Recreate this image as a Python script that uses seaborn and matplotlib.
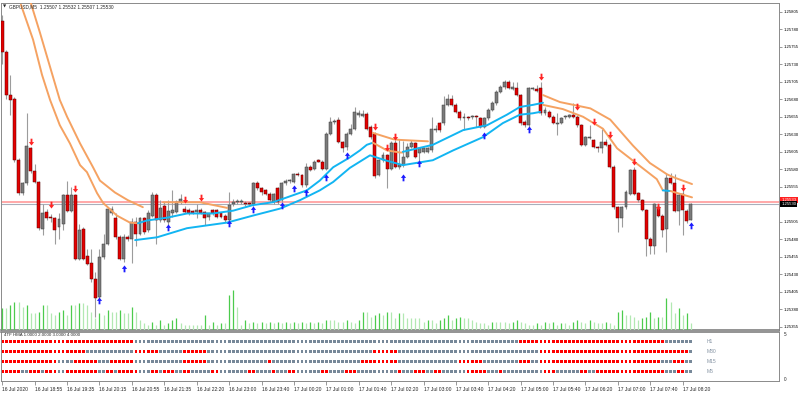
import numpy as np
import pandas as pd
import seaborn as sns
import matplotlib.pyplot as plt
from matplotlib.path import Path

sns.set_theme(style="white")
plt.rcParams['font.family'] = ['Liberation Sans', 'DejaVu Sans']

# ---- GBPUSD M5 bars (171 bars) ----
open_ = [1.25792, 1.25748, 1.25686, 1.25680, 1.25594, 1.25546, 1.25561, 1.25610, 1.25578, 1.25562,
         1.25495, 1.25519, 1.25512, 1.25510, 1.25497, 1.25502, 1.25543, 1.25521, 1.25543, 1.25452,
         1.25495, 1.25457, 1.25447, 1.25424, 1.25398, 1.25455, 1.25474, 1.25517, 1.25510, 1.25483,
         1.25452, 1.25483, 1.25480, 1.25505, 1.25488, 1.25510, 1.25493, 1.25514, 1.25544, 1.25507,
         1.25527, 1.25505, 1.25518, 1.25519, 1.25533, 1.25524, 1.25522, 1.25520, 1.25519, 1.25522,
         1.25519, 1.25512, 1.25522, 1.25522, 1.25517, 1.25514, 1.25507, 1.25530, 1.25533, 1.25533,
         1.25532, 1.25532, 1.25530, 1.25560, 1.25553, 1.25550, 1.25545, 1.25533, 1.25553, 1.25536,
         1.25560, 1.25563, 1.25562, 1.25574, 1.25572, 1.25557, 1.25584, 1.25581, 1.25593, 1.25591,
         1.25581, 1.25631, 1.25648, 1.25650, 1.25619, 1.25612, 1.25631, 1.25638, 1.25658, 1.25656,
         1.25659, 1.25641, 1.25631, 1.25572, 1.25593, 1.25600, 1.25581, 1.25617, 1.25584, 1.25586,
         1.25598, 1.25612, 1.25617, 1.25603, 1.25605, 1.25605, 1.25607, 1.25636, 1.25646, 1.25646,
         1.25672, 1.25681, 1.25672, 1.25662, 1.25653, 1.25654, 1.25654, 1.25656, 1.25653, 1.25641,
         1.25653, 1.25665, 1.25674, 1.25691, 1.25697, 1.25705, 1.25695, 1.25696, 1.25686, 1.25648,
         1.25643, 1.25695, 1.25694, 1.25696, 1.25660, 1.25662, 1.25655, 1.25645, 1.25646, 1.25654,
         1.25655, 1.25657, 1.25655, 1.25643, 1.25615, 1.25625, 1.25622, 1.25612, 1.25610, 1.25619,
         1.25615, 1.25584, 1.25526, 1.25510, 1.25526, 1.25545, 1.25579, 1.25546, 1.25536, 1.25522,
         1.25481, 1.25471, 1.25526, 1.25514, 1.25495, 1.25567, 1.25561, 1.25521, 1.25545, 1.25521,
         1.25507]
high = [1.25800, 1.25750, 1.25715, 1.25683, 1.25596, 1.25562, 1.25660, 1.25612, 1.25588, 1.25564,
        1.25531, 1.25524, 1.25516, 1.25512, 1.25517, 1.25545, 1.25564, 1.25555, 1.25545, 1.25502,
        1.25497, 1.25466, 1.25466, 1.25433, 1.25466, 1.25488, 1.25526, 1.25528, 1.25517, 1.25486,
        1.25488, 1.25486, 1.25510, 1.25512, 1.25512, 1.25512, 1.25522, 1.25548, 1.25546, 1.25536,
        1.25533, 1.25536, 1.25550, 1.25536, 1.25545, 1.25527, 1.25525, 1.25522, 1.25531, 1.25525,
        1.25521, 1.25517, 1.25524, 1.25524, 1.25519, 1.25516, 1.25548, 1.25537, 1.25537, 1.25537,
        1.25535, 1.25534, 1.25562, 1.25563, 1.25555, 1.25552, 1.25547, 1.25546, 1.25555, 1.25562,
        1.25566, 1.25566, 1.25575, 1.25576, 1.25574, 1.25589, 1.25586, 1.25593, 1.25595, 1.25593,
        1.25633, 1.25655, 1.25652, 1.25655, 1.25621, 1.25633, 1.25645, 1.25669, 1.25664, 1.25665,
        1.25662, 1.25643, 1.25633, 1.25595, 1.25605, 1.25602, 1.25620, 1.25622, 1.25624, 1.25620,
        1.25617, 1.25622, 1.25619, 1.25612, 1.25612, 1.25612, 1.25655, 1.25643, 1.25648, 1.25684,
        1.25688, 1.25686, 1.25674, 1.25664, 1.25660, 1.25656, 1.25658, 1.25658, 1.25655, 1.25655,
        1.25667, 1.25677, 1.25693, 1.25700, 1.25707, 1.25707, 1.25705, 1.25705, 1.25688, 1.25650,
        1.25698, 1.25698, 1.25700, 1.25705, 1.25669, 1.25664, 1.25657, 1.25660, 1.25655, 1.25658,
        1.25659, 1.25674, 1.25657, 1.25645, 1.25628, 1.25643, 1.25624, 1.25614, 1.25638, 1.25624,
        1.25617, 1.25586, 1.25528, 1.25528, 1.25550, 1.25581, 1.25584, 1.25548, 1.25538, 1.25524,
        1.25483, 1.25532, 1.25530, 1.25516, 1.25575, 1.25575, 1.25574, 1.25546, 1.25550, 1.25523,
        1.25532]
low = [1.25731, 1.25681, 1.25657, 1.25590, 1.25543, 1.25544, 1.25558, 1.25575, 1.25560, 1.25493,
       1.25486, 1.25507, 1.25505, 1.25474, 1.25481, 1.25493, 1.25519, 1.25519, 1.25450, 1.25450,
       1.25450, 1.25443, 1.25419, 1.25369, 1.25396, 1.25452, 1.25472, 1.25515, 1.25481, 1.25450,
       1.25448, 1.25478, 1.25447, 1.25471, 1.25486, 1.25488, 1.25491, 1.25512, 1.25474, 1.25505,
       1.25505, 1.25500, 1.25512, 1.25517, 1.25531, 1.25517, 1.25515, 1.25516, 1.25510, 1.25516,
       1.25500, 1.25508, 1.25515, 1.25510, 1.25510, 1.25505, 1.25505, 1.25528, 1.25531, 1.25531,
       1.25528, 1.25528, 1.25528, 1.25551, 1.25544, 1.25543, 1.25533, 1.25531, 1.25530, 1.25534,
       1.25558, 1.25561, 1.25560, 1.25570, 1.25555, 1.25555, 1.25577, 1.25579, 1.25590, 1.25579,
       1.25579, 1.25629, 1.25645, 1.25617, 1.25605, 1.25608, 1.25629, 1.25636, 1.25655, 1.25654,
       1.25636, 1.25624, 1.25568, 1.25570, 1.25591, 1.25553, 1.25579, 1.25582, 1.25580, 1.25584,
       1.25596, 1.25610, 1.25596, 1.25591, 1.25603, 1.25603, 1.25605, 1.25634, 1.25634, 1.25643,
       1.25670, 1.25670, 1.25660, 1.25651, 1.25636, 1.25651, 1.25652, 1.25640, 1.25639, 1.25639,
       1.25651, 1.25663, 1.25672, 1.25689, 1.25695, 1.25694, 1.25693, 1.25684, 1.25643, 1.25641,
       1.25638, 1.25693, 1.25690, 1.25658, 1.25658, 1.25653, 1.25644, 1.25629, 1.25644, 1.25652,
       1.25653, 1.25653, 1.25641, 1.25613, 1.25613, 1.25623, 1.25610, 1.25605, 1.25603, 1.25613,
       1.25582, 1.25524, 1.25491, 1.25498, 1.25524, 1.25543, 1.25543, 1.25534, 1.25520, 1.25457,
       1.25459, 1.25459, 1.25512, 1.25483, 1.25462, 1.25559, 1.25519, 1.25500, 1.25486, 1.25504,
       1.25507]
close = [1.25748, 1.25686, 1.25679, 1.25594, 1.25546, 1.25561, 1.25613, 1.25578, 1.25562, 1.25496,
         1.25518, 1.25510, 1.25510, 1.25493, 1.25509, 1.25544, 1.25521, 1.25543, 1.25452, 1.25494,
         1.25452, 1.25445, 1.25424, 1.25397, 1.25455, 1.25474, 1.25524, 1.25524, 1.25483, 1.25452,
         1.25483, 1.25480, 1.25505, 1.25488, 1.25510, 1.25490, 1.25517, 1.25544, 1.25507, 1.25525,
         1.25507, 1.25521, 1.25522, 1.25533, 1.25537, 1.25519, 1.25517, 1.25518, 1.25522, 1.25518,
         1.25510, 1.25517, 1.25517, 1.25512, 1.25512, 1.25507, 1.25529, 1.25533, 1.25535, 1.25535,
         1.25530, 1.25530, 1.25560, 1.25553, 1.25548, 1.25545, 1.25536, 1.25545, 1.25533, 1.25560,
         1.25564, 1.25564, 1.25574, 1.25572, 1.25557, 1.25584, 1.25579, 1.25591, 1.25591, 1.25581,
         1.25631, 1.25648, 1.25649, 1.25619, 1.25610, 1.25631, 1.25638, 1.25662, 1.25660, 1.25659,
         1.25638, 1.25626, 1.25570, 1.25593, 1.25600, 1.25581, 1.25617, 1.25584, 1.25586, 1.25598,
         1.25612, 1.25617, 1.25598, 1.25610, 1.25610, 1.25610, 1.25638, 1.25638, 1.25636, 1.25672,
         1.25680, 1.25672, 1.25662, 1.25653, 1.25654, 1.25653, 1.25656, 1.25654, 1.25641, 1.25653,
         1.25665, 1.25674, 1.25691, 1.25697, 1.25705, 1.25696, 1.25697, 1.25686, 1.25646, 1.25643,
         1.25696, 1.25696, 1.25692, 1.25660, 1.25665, 1.25655, 1.25646, 1.25646, 1.25653, 1.25656,
         1.25657, 1.25655, 1.25643, 1.25615, 1.25626, 1.25626, 1.25612, 1.25610, 1.25619, 1.25615,
         1.25584, 1.25526, 1.25510, 1.25526, 1.25548, 1.25579, 1.25545, 1.25536, 1.25522, 1.25480,
         1.25471, 1.25530, 1.25514, 1.25494, 1.25567, 1.25561, 1.25521, 1.25544, 1.25522, 1.25506,
         1.25530]
volume = [65, 65, 75, 85, 85, 70, 75, 50, 50, 55,
          75, 75, 50, 45, 55, 60, 45, 75, 75, 80,
          80, 75, 55, 35, 50, 45, 60, 55, 55, 60,
          50, 50, 70, 55, 30, 20, 15, 25, 15, 30,
          15, 20, 30, 35, 20, 15, 15, 15, 15, 15,
          45, 15, 25, 15, 20, 20, 105, 120, 70, 15,
          30, 20, 25, 20, 25, 20, 25, 20, 25, 20,
          25, 20, 25, 20, 25, 20, 25, 20, 25, 20,
          30, 30, 30, 25, 25, 30, 25, 20, 30, 55,
          55, 40, 45, 50, 45, 55, 55, 35, 50, 50,
          35, 35, 35, 35, 25, 30, 30, 20, 30, 35,
          45, 30, 35, 40, 35, 35, 30, 25, 20, 20,
          15, 25, 25, 25, 25, 20, 25, 30, 25, 20,
          15, 15, 20, 15, 25, 20, 25, 15, 20, 20,
          15, 25, 30, 25, 20, 30, 25, 20, 20, 25,
          20, 15, 55, 60, 45, 45, 40, 30, 35, 40,
          55, 35, 40, 40, 95, 85, 50, 65, 45, 50,
          20]

ask_price = 1.25533
bid_price = 1.25530
price_ticks = [1.25355, 1.25380, 1.25405, 1.25430, 1.25455, 1.25480, 1.25505,
               1.25555, 1.25580, 1.25605, 1.25630, 1.25655, 1.25680, 1.25705,
               1.25730, 1.25755, 1.25780, 1.25805]
time_labels = ["16 Jul 2020", "16 Jul 18:55", "16 Jul 19:35", "16 Jul 20:15", "16 Jul 20:55",
               "16 Jul 21:35", "16 Jul 22:20", "16 Jul 23:00", "16 Jul 23:40", "17 Jul 00:20",
               "17 Jul 01:00", "17 Jul 01:40", "17 Jul 02:20", "17 Jul 03:00", "17 Jul 03:40",
               "17 Jul 04:20", "17 Jul 05:00", "17 Jul 05:40", "17 Jul 06:20", "17 Jul 07:00",
               "17 Jul 07:40", "17 Jul 08:20"]

# HMA band pieces (bar position, price) as drawn, orange = falling, blue = rising
orange_a_up_x = [6.8, 9.3, 11.8, 14.2, 16.0, 19.2, 22.4, 24.1, 27.8, 31.0, 34.7]
orange_a_up_y = [1.25822, 1.25775, 1.25726, 1.25679, 1.25655, 1.25617, 1.25583, 1.25564, 1.25547, 1.25536, 1.25526]
orange_a_lo_x = [4.6, 7.6, 9.8, 11.8, 14.2, 16.7, 19.2, 20.9, 23.4, 24.9, 28.3, 31.5, 33.5]
orange_a_lo_y = [1.25815, 1.25765, 1.25715, 1.25679, 1.25643, 1.25617, 1.25586, 1.25576, 1.25546, 1.25532, 1.25514, 1.25504, 1.25503]
blue_b_up_x = [33.5, 35.7, 40.7, 45.6, 52.0, 57.0, 61.9, 66.8, 70.3, 75.2, 78.4, 81.7, 85.8, 88.3, 90.0, 91.5]
blue_b_up_y = [1.25503, 1.25507, 1.25511, 1.25517, 1.25517, 1.25521, 1.25529, 1.25533, 1.25540, 1.25550, 1.25564, 1.25583, 1.25597, 1.25607, 1.25615, 1.25618]
blue_b_lo_x = [32.8, 38.2, 45.6, 55.5, 61.9, 68.6, 73.5, 78.4, 81.7, 85.8, 90.8, 94.5, 98.9, 106.3, 111.3, 118.7, 123.6, 127.8, 131.0, 132.8]
blue_b_lo_y = [1.25479, 1.25483, 1.25496, 1.25504, 1.25514, 1.25524, 1.25536, 1.25550, 1.25562, 1.25582, 1.25600, 1.25593, 1.25586, 1.25593, 1.25607, 1.25626, 1.25646, 1.25658, 1.25660, 1.25662]
orange_s_x = [39.7, 48.8, 55.5]
orange_s_y = [1.25533, 1.25533, 1.25525]
orange_t_x = [91.5, 96.5, 98.2, 105.1]
orange_t_y = [1.25632, 1.25623, 1.25622, 1.25620]
orange_t2_x = [91.5, 95.0, 98.2, 98.9]
orange_t2_y = [1.25618, 1.25607, 1.25604, 1.25604]
blue_c_up_x = [98.9, 106.3, 113.8, 119.7, 124.6, 127.8, 131.0, 133.5]
blue_c_up_y = [1.25605, 1.25615, 1.25636, 1.25643, 1.25658, 1.25669, 1.25672, 1.25675]
orange_u_x = [133.5, 137.7, 145.2, 150.1, 155.7, 159.9, 164.1, 165.6, 170.3]
orange_u_y = [1.25686, 1.25676, 1.25667, 1.25651, 1.25614, 1.25589, 1.25573, 1.25569, 1.25559]
orange_l_x = [133.5, 138.4, 143.4, 148.3, 151.8, 156.7, 161.6, 163.1]
orange_l_y = [1.25672, 1.25666, 1.25655, 1.25638, 1.25610, 1.25588, 1.25566, 1.25550]
blue_d_x = [163.1, 165.0]
blue_d_y = [1.25550, 1.25549]
orange_l2_x = [165.0, 170.3]
orange_l2_y = [1.25549, 1.25540]

# signal arrows
sell_bar = [7, 12, 18, 45, 49, 92, 95, 97, 133, 142, 146, 150, 156, 162, 168]
sell_price = [1.25619, 1.25529, 1.25552, 1.25536, 1.25539, 1.25640, 1.25610, 1.25626, 1.25712,
              1.25669, 1.25647, 1.25629, 1.25590, 1.25526, 1.25553]
buy_bar = [24, 30, 41, 56, 62, 69, 72, 75, 80, 85, 99, 103, 119, 130, 170]
buy_price = [1.25393, 1.25439, 1.25497, 1.25503, 1.25523, 1.25529, 1.25553, 1.25547, 1.25569,
             1.25600, 1.25569, 1.25589, 1.25629, 1.25638, 1.25500]

# 4TF HMA state per bar (r = down/red, g = up/grey), run lengths
tf_names = ["H1", "M30", "M15", "M5"]
tf_values = [4.0, 3.0, 2.0, 1.0]
tf_runs = ["r33 g95 r36 g7",
           "r21 g12 r6 g6 r6 g41 r6 g35 r37 g1",
           "r14 g4 r6 g3 r6 g12 r6 g15 r1 g22 r9 g15 r6 g9 r3 g2 r30 g3 r3 g2",
           "r5 g2 r3 g1 r3 g2 r8 g2 r2 g1 r5 g3 r2 g1 r3 g2 r2 g5 r2 g7 r2 g4 r1 g3 r2 g6 "
           "r2 g4 r3 g10 r1 g3 r3 g2 r2 g6 r5 g3 r1 g10 r3 g6 r2 g2 r17 g3 r2 g2"]

# ---- layout (pixel boxes of the terminal window) ----
W, H = 800, 394
BAR0, STEP = 2.3, 4.05


def box(x0, y0, x1, y1):
    return [x0 / W, 1 - y1 / H, (x1 - x0) / W, (y1 - y0) / H]


fig = plt.figure(figsize=(8, 3.94), dpi=100)
fig.patch.set_facecolor("white")
ax = fig.add_axes(box(1, 3, 779, 330))
axi = fig.add_axes(box(1, 332, 779, 381))
xmin, xmax = (1 - BAR0) / STEP, (779 - BAR0) / STEP

bars = np.arange(len(close))
o, h, l, c = (np.array(v) for v in (open_, high, low, close))
up = c >= o
body_lo = np.minimum(o, c)
body_h = np.maximum(np.abs(c - o), 0.000012)

# volumes on their own scale at the bottom of the price window
axv = ax.twinx()
vol = np.array(volume)
rising = np.r_[True, vol[1:] > vol[:-1]]
axv.vlines(bars[rising], 0, vol[rising], color="#4ccb4c", lw=0.9)
axv.vlines(bars[~rising], 0, vol[~rising], color="#b2e8b2", lw=0.9)
axv.set_ylim(0, 981)
axv.axis("off")

ax.axhline(ask_price, color="#ffa8a8", lw=1.4, zorder=1)
ax.axhline(bid_price, color="#a9afbb", lw=0.8, zorder=1)

ax.vlines(bars, l, h, color="#9c9c9c", lw=0.8, zorder=2)
ax.bar(bars[up], body_h[up], bottom=body_lo[up], width=0.74, color="#7b7b7b",
       edgecolor="#3a3a3a", linewidth=0.35, zorder=3)
ax.bar(bars[~up], body_h[~up], bottom=body_lo[~up], width=0.74, color="#e30000",
       edgecolor="#5a0000", linewidth=0.35, zorder=3)

ORANGE, BLUE = "#f5a262", "#12b5f2"
segments = [(orange_a_up_x, orange_a_up_y, ORANGE), (orange_a_lo_x, orange_a_lo_y, ORANGE),
            (blue_b_up_x, blue_b_up_y, BLUE), (blue_b_lo_x, blue_b_lo_y, BLUE),
            (orange_s_x, orange_s_y, ORANGE), (orange_t_x, orange_t_y, ORANGE),
            (orange_t2_x, orange_t2_y, ORANGE), (blue_c_up_x, blue_c_up_y, BLUE),
            (orange_u_x, orange_u_y, ORANGE), (orange_l_x, orange_l_y, ORANGE),
            (blue_d_x, blue_d_y, BLUE), (orange_l2_x, orange_l2_y, ORANGE)]
for xs, ys, col in segments:
    sns.lineplot(x=xs, y=ys, ax=ax, color=col, lw=1.4, sort=False, estimator=None, zorder=4)

arrow_pts = [(-0.22, 0.9), (0.22, 0.9), (0.22, 0.1), (0.62, 0.1), (0.0, -0.72),
             (-0.62, 0.1), (-0.22, 0.1), (-0.22, 0.9)]
down_arrow = Path(arrow_pts, closed=True)
up_arrow = Path([(x, -y) for x, y in arrow_pts], closed=True)
sns.scatterplot(x=sell_bar, y=sell_price, ax=ax, marker=down_arrow, s=30,
                color="#ff2424", linewidth=0, zorder=6)
sns.scatterplot(x=buy_bar, y=buy_price, ax=ax, marker=up_arrow, s=30,
                color="#1c1cff", linewidth=0, zorder=6)

ax.set_xlim(xmin, xmax)
ax.set_ylim(1.253507, 1.258174)
ax.set_yticks(price_ticks)
ax.set_yticklabels([f"{p:.5f}" for p in price_ticks])
ax.yaxis.tick_right()
ax.tick_params(axis="y", right=True, left=False, length=2.5, width=0.5, color="#707070",
               labelsize=3.1, pad=0.8, labelcolor="black")
ax.tick_params(axis="x", bottom=False, labelbottom=False)
ax.set_xlabel("")
ax.set_ylabel("")
for side, sp in ax.spines.items():
    sp.set_color("#8a8a8a")
    sp.set_linewidth(0.7)
ax.spines["bottom"].set_linewidth(1.2)
ax.spines["bottom"].set_color("#808080")

# current price labels on the price scale
ax.text(1.003, ask_price + 0.00003, "1.25533", transform=ax.get_yaxis_transform(),
        fontsize=3.1, color="white", va="center", ha="left",
        bbox=dict(boxstyle="square,pad=0.25", fc="#ff2020", ec="none"), zorder=7)
ax.text(1.003, bid_price, "1.25530", transform=ax.get_yaxis_transform(),
        fontsize=3.1, color="white", va="center", ha="left",
        bbox=dict(boxstyle="square,pad=0.25", fc="black", ec="none"), zorder=8)

fig.text(2.5 / W, 1 - 7 / H, "\u25BC", fontsize=3, va="center", ha="left",
         family=["DejaVu Sans"])
fig.text(9 / W, 1 - 7 / H, "GBPUSD,M5  1.25507 1.25532 1.25507 1.25530",
         fontsize=3.4, va="center", ha="left")

# ---- 4TF HMA window ----
frames = []
for name, val, runs in zip(tf_names, tf_values, tf_runs):
    states = [tok[0] for tok in runs.split() for _ in range(int(tok[1:]))]
    frames.append(pd.DataFrame({"bar": bars, "level": val, "state": states}))
tf = pd.concat(frames, ignore_index=True)
sns.scatterplot(data=tf, x="bar", y="level", hue="state",
                palette={"r": "#ff0000", "g": "#778899"}, marker="s", s=4.2,
                linewidth=0, legend=False, ax=axi)
for name, val in zip(tf_names, tf_values):
    axi.text((707 - BAR0) / STEP, val, name, fontsize=3.6, color="#8593a3",
             va="center", ha="left")
axi.text(0.004, 0.93, "4TF HMA 1.0000 2.0000 3.0000 4.0000", transform=axi.transAxes,
         fontsize=3.2, va="center", ha="left")
axi.text(1.006, 0.94, "5", transform=axi.transAxes, fontsize=3.3, va="center", ha="left")
axi.text(1.006, 0.03, "0", transform=axi.transAxes, fontsize=3.3, va="center", ha="left")

axi.set_xlim(xmin, xmax)
axi.set_ylim(0, 5)
axi.set_yticks([])
axi.set_xticks(bars[::8][:len(time_labels)])
axi.set_xticklabels(time_labels)
for lab in axi.get_xticklabels():
    lab.set_horizontalalignment("left")
axi.tick_params(axis="x", bottom=True, length=3, width=0.5, color="#707070",
                labelsize=3.6, pad=1.2)
axi.set_xlabel("")
axi.set_ylabel("")
for side, sp in axi.spines.items():
    sp.set_color("#8a8a8a")
    sp.set_linewidth(0.7)
axi.spines["top"].set_linewidth(1.2)
axi.spines["top"].set_color("#808080")

fig.savefig("out.png", dpi=100)
